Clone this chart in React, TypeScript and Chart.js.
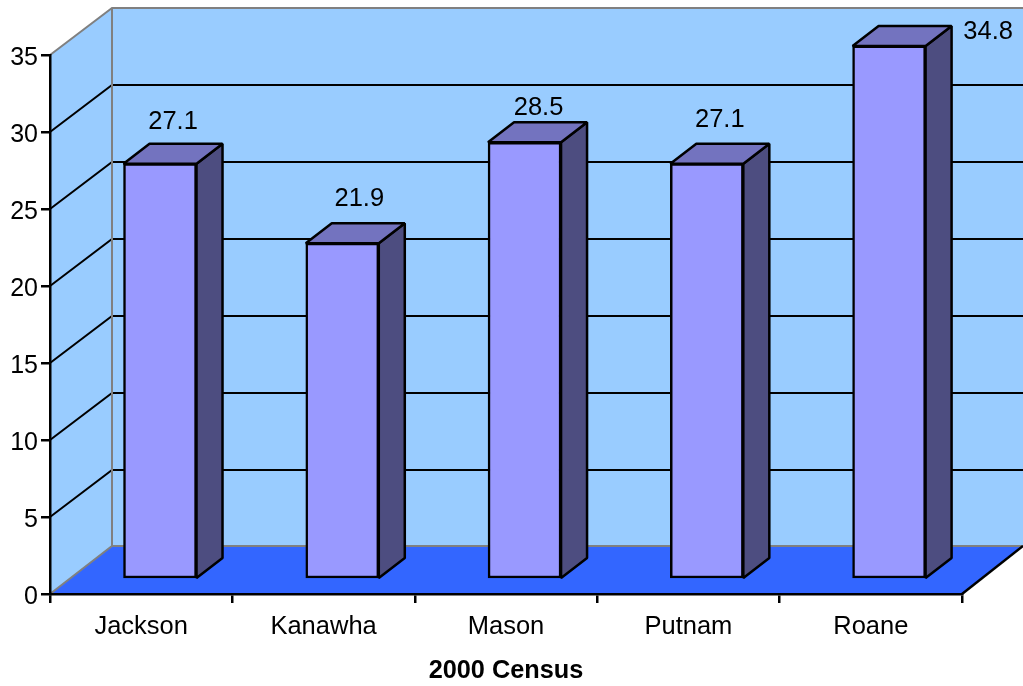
import React, { useEffect, useRef } from "react";
import { Chart, registerables } from "chart.js";

Chart.register(...registerables);

const categories = ["Jackson", "Kanawha", "Mason", "Putnam", "Roane"];
const values = [27.1, 21.9, 28.5, 27.1, 34.8];
const axisTitle = "2000 Census";
const yTicks = [0, 5, 10, 15, 20, 25, 30, 35];

const FONT = "'Liberation Sans', Arial, sans-serif";
const WALL_DX = 62;
const WALL_DY = 48;
const BAR_DX = 26;
const BAR_DY = 20;
const LINE = 2.5;
const labelNudge = [
  [13, -42],
  [17, -44],
  [14, -34],
  [13, -44],
  [99, -14],
];

const wallsPlugin = {
  id: "walls",
  beforeDraw(chart: any) {
    const { ctx, chartArea: a, scales } = chart;
    const y = scales.y;
    // y tick labels sit slightly below their tick marks in the reference
    y.getLabelItems().forEach((item: any) => {
      if (!item.__shifted) {
        item.textOffset = (item.textOffset || 0) + 3;
        item.__shifted = true;
      }
    });
    const L = a.left;
    const R = a.right;
    const T = y.getPixelForValue(35);
    const B = y.getPixelForValue(0);
    const bx = L + WALL_DX;
    const fx = R + WALL_DX - 1;
    const by = B - WALL_DY;
    const ty = T - WALL_DY + 1;
    ctx.save();
    ctx.fillStyle = "#99CCFF";
    ctx.beginPath();
    ctx.moveTo(L, T);
    ctx.lineTo(bx, ty);
    ctx.lineTo(fx, ty);
    ctx.lineTo(fx, by);
    ctx.lineTo(bx, by);
    ctx.lineTo(L, B);
    ctx.closePath();
    ctx.fill();
    ctx.fillStyle = "#3366FF";
    ctx.beginPath();
    ctx.moveTo(L, B);
    ctx.lineTo(bx, by);
    ctx.lineTo(fx, by);
    ctx.lineTo(R, B);
    ctx.closePath();
    ctx.fill();
    // gridlines over side and back wall
    ctx.strokeStyle = "#000";
    ctx.lineWidth = 2;
    yTicks.slice(1, -1).forEach((t) => {
      const p = Math.round(y.getPixelForValue(t));
      ctx.beginPath();
      ctx.moveTo(L, p);
      ctx.lineTo(bx, p - WALL_DY + 1);
      ctx.lineTo(fx, p - WALL_DY + 1);
      ctx.stroke();
    });
    // wall edges
    ctx.strokeStyle = "#808080";
    ctx.lineWidth = 2;
    ctx.beginPath();
    ctx.moveTo(L, T);
    ctx.lineTo(bx, ty);
    ctx.lineTo(fx, ty);
    ctx.moveTo(bx, ty);
    ctx.lineTo(bx, by);
    ctx.moveTo(L, B);
    ctx.lineTo(bx, by);
    ctx.lineTo(fx, by);
    ctx.stroke();
    // front-right floor edge
    ctx.strokeStyle = "#000";
    ctx.lineWidth = LINE;
    ctx.beginPath();
    ctx.moveTo(R, B);
    ctx.lineTo(fx, by);
    ctx.stroke();
    ctx.restore();
  },
};

const bar3dPlugin = {
  id: "bar3d",
  afterDatasetsDraw(chart: any) {
    const { ctx } = chart;
    const bars = chart.getDatasetMeta(0).data;
    ctx.save();
    ctx.lineWidth = LINE;
    ctx.strokeStyle = "#000";
    ctx.lineJoin = "bevel";
    bars.forEach((el: any, i: number) => {
      const { x, y, base, width } = el.getProps(["x", "y", "base", "width"], true);
      const l = x - width / 2;
      const r = x + width / 2;
      ctx.fillStyle = "#4D4D80";
      ctx.beginPath();
      ctx.moveTo(r, y);
      ctx.lineTo(r + BAR_DX, y - BAR_DY);
      ctx.lineTo(r + BAR_DX, base - BAR_DY);
      ctx.lineTo(r, base);
      ctx.closePath();
      ctx.fill();
      ctx.stroke();
      ctx.fillStyle = "#7373BF";
      ctx.beginPath();
      ctx.moveTo(l, y);
      ctx.lineTo(l + BAR_DX, y - BAR_DY);
      ctx.lineTo(r + BAR_DX, y - BAR_DY);
      ctx.lineTo(r, y);
      ctx.closePath();
      ctx.fill();
      ctx.stroke();
      ctx.fillStyle = "#000";
      ctx.font = `25.5px ${FONT}`;
      ctx.textAlign = "center";
      ctx.textBaseline = "middle";
      ctx.fillText(String(values[i]), x + labelNudge[i][0], y + labelNudge[i][1]);
    });
    ctx.restore();
  },
};

export default function App() {
  const ref = useRef<HTMLCanvasElement>(null);
  useEffect(() => {
    const chart = new Chart(ref.current as HTMLCanvasElement, {
      type: "bar",
      data: {
        labels: categories,
        datasets: [
          {
            data: values.map((v, i) => ({ x: i, y: v })),
            xAxisID: "xBar",
            yAxisID: "yBar",
            backgroundColor: "#9999FF",
            borderColor: "#000",
            borderWidth: LINE,
            borderSkipped: false,
            barThickness: 73,
            clip: false,
          },
        ],
      } as any,
      options: {
        responsive: false,
        animation: false,
        events: [],
        layout: { padding: { left: 0, right: 61, top: 55, bottom: 0 } },
        plugins: { legend: { display: false }, tooltip: { enabled: false }, title: { display: false } },
        scales: {
          x: {
            type: "category",
            position: "bottom",
            offset: true,
            afterFit(s: any) {
              s.height = 92;
            },
            border: { display: true, color: "#000", width: LINE },
            grid: { drawOnChartArea: false, drawTicks: true, tickLength: 9, color: "#000", lineWidth: LINE, offset: true },
            ticks: { font: { family: FONT, size: 25.5 }, color: "#000", padding: 9, maxRotation: 0, autoSkip: false },
            title: {
              display: true,
              text: axisTitle,
              font: { family: FONT, size: 25.3, weight: "bold" },
              color: "#000",
              padding: { top: 8, bottom: 0 },
            },
          },
          y: {
            type: "linear",
            position: "left",
            min: 0,
            max: 35,
            afterFit(s: any) {
              s.width = 50;
            },
            border: { display: true, color: "#000", width: LINE },
            grid: { drawOnChartArea: false, drawTicks: true, tickLength: 9, color: "#000", lineWidth: LINE },
            ticks: { stepSize: 5, font: { family: FONT, size: 25 }, color: "#000", padding: 3 },
          },
          xBar: { type: "linear", display: false, min: -0.6036, max: 4.4, offset: false },
          yBar: { type: "linear", display: false, min: -1.046, max: 34.205 },
        },
      } as any,
      plugins: [wallsPlugin, bar3dPlugin],
    });
    return () => chart.destroy();
  }, []);
  return (
    <div style={{ position: "absolute", left: 0, top: 0, width: 1023, height: 686 }}>
      <canvas ref={ref} width={1023} height={686} style={{ display: "block" }} />
    </div>
  );
}
